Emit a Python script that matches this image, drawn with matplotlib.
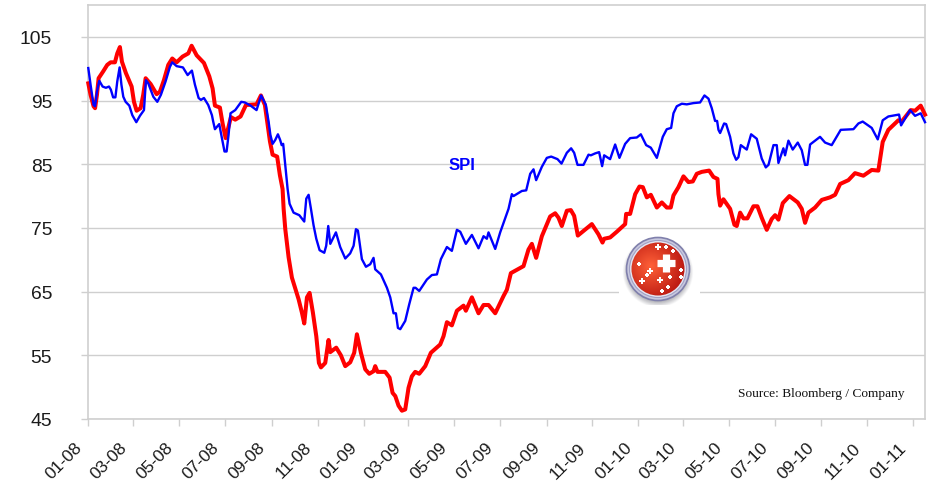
import numpy as np
import matplotlib
matplotlib.use('Agg')
import matplotlib.pyplot as plt
from matplotlib.patches import Circle, Rectangle

# days since 1 Jan 2008 / index level
spi_days = [0, 3, 7, 9, 11.5, 14.6, 19, 23.4, 27.5, 30, 33, 36, 38.5, 41.6, 44, 46.5, 49.6, 54.5, 58.5, 63.8,
            68.6, 74, 76.6, 79.7, 86.4, 91.7, 96.5, 102.7, 108.5, 111.6, 117.4, 125.8, 132, 137.7, 141.7, 146.6,
            149.7, 153.7, 159.4, 164.3, 166, 168.3, 174, 177.6, 181, 183.8, 186.4, 189, 195.3, 203.3, 208, 215.7,
            223.6, 229.8, 236, 239.6, 242, 245, 248.4, 252, 255, 257, 259, 261.7, 264.9, 267.5, 272.8, 280.4,
            287, 289.7, 292.8, 295.9, 299.4, 303, 307.4, 313.6, 316.2, 318.9, 321.6, 329.1, 334.8, 341.5, 348,
            352.6, 355.7, 358.3, 363.6, 369, 374.7, 379.1, 381.3, 388.9, 396.9, 401.3, 405.7, 408.8, 411.5, 414.6,
            421.2, 426.5, 432.3, 434.9, 439.8, 450, 456.6, 463.3, 468.6, 476.6, 483.2, 489.9, 494.3, 501.8, 509.8,
            518.6, 525.3, 529.7, 531.9, 540.8, 547.4, 558.5, 562.9, 565.1, 576.2, 582, 587.3, 591.7, 595.2, 602.8,
            609.4, 615.2, 623.6, 628.9, 636, 641.7, 645.7, 650.2, 658.1, 664.8, 667.9, 673.6, 678.9, 682.9, 685.6,
            693.5, 700.2, 705.9, 713.5, 720.1, 729, 734.3, 741.4, 747.6, 755.6, 763.5, 768.8, 774.6, 777.7, 782.1,
            788.8, 795.4, 804.3, 813.1, 818.9, 824.2, 828.6, 833, 835.7, 837.5, 839.7, 845, 847.7, 853, 857.4, 861,
            864, 867.2, 875.1, 880.9, 888.4, 895, 900.4, 904, 910.6, 915, 917.2, 923.8, 926, 930.5, 936.2, 942.9,
            948.2, 952.6, 955.7, 959.3, 972.5, 979.2, 988, 1000, 1016.9, 1023.5, 1029.2, 1041.2, 1049.2, 1055.8,
            1063.3, 1077.5, 1080.2, 1092.1, 1098.8, 1106.3, 1112]
spi_vals = [100.1, 97.5, 94.3, 94.1, 96.4, 98.1, 97.2, 97, 97.2, 96.7, 95.5, 95.5, 98, 100.2, 97.5, 95.6, 94.8, 94.2,
            92.7, 91.6, 92.6, 93.5, 98.2, 97.7, 95.6, 94.8, 95.9, 98, 100.3, 101, 100.4, 100.2, 99, 99.7, 97.5, 95.4,
            95.1, 95.4, 94.3, 92.7, 91.7, 90.5, 91.3, 89.1, 87, 87, 89.6, 93, 93.5, 94.8, 94.7, 94.2, 93.5, 95.8,
            94.3, 91.7, 89.6, 88.2, 88.8, 89.7, 88.8, 88, 88.2, 84.9, 81.1, 78.8, 77.4, 77, 76, 79.6, 80.2, 78, 75.4,
            73.3, 71.5, 71.1, 72.2, 75.3, 72.5, 74.3, 72, 70.2, 71, 72.2, 74.8, 74.6, 70.1, 68.9, 69.3, 70.3, 68.5,
            67.7, 65.6, 64.1, 61.6, 61.6, 59.3, 59.1, 60.4, 63, 65.6, 65.6, 65.1, 66.9, 67.6, 67.7, 70.1, 72, 71.4,
            74.7, 74.4, 72.5, 73.9, 71.8, 73.7, 73.3, 74.3, 71.7, 74.3, 78, 80.3, 80, 80.8, 80.9, 83.5, 84.2, 82.5,
            84.6, 86, 86.2, 85.8, 85.1, 86.8, 87.5, 86.8, 84.9, 84.9, 86.5, 86.4, 86.7, 86.9, 84.7, 86.4, 85.8, 88.1,
            86, 88.2, 89.1, 89.2, 89.7, 88, 87.6, 86, 89.3, 90.5, 90.7, 93, 94.1, 94.5, 94.4, 94.6, 94.7, 95.8, 95.3,
            93.8, 91.8, 91.8, 90.4, 89.9, 91.4, 91.3, 89.3, 86.7, 85.7, 86.1, 88, 87.3, 89.7, 89, 85.9, 84.5, 84.9,
            88, 88, 85.2, 87.5, 86.4, 88.7, 87.3, 88.4, 87.2, 84.9, 84.9, 88.1, 89.3, 88.4, 88, 90.4, 90.5, 91.4,
            91.7, 90.7, 88.9, 91.9, 92.5, 92.8, 91.1, 93.5, 92.6, 93, 91.6]

company_days = [0, 3, 7, 9, 11.5, 13.7, 19.9, 25.2, 29.7, 35.4, 38.5, 42, 44.7, 50, 57.6, 60.7, 64.2, 69.5, 73, 76.2,
                82.8, 90.8, 95.2, 100.5, 106.3, 111.6, 117.4, 125.3, 132.9, 137.3, 144, 153.7, 160.8, 165.2, 168.3,
                174.9, 178.5, 182.5, 186, 189.5, 195.3, 202.4, 209.5, 223.6, 229.4, 234.7, 238.3, 241.4, 244.9, 251,
                254.6, 258.2, 259.6, 261.8, 266.2, 270.6, 279.5, 283.9, 287, 290.6, 294.1, 298.5, 303, 306.5, 309.2,
                314.9, 319.3, 321.6, 329.5, 335.7, 341.5, 348.1, 353.4, 357, 362.3, 368.1, 373.4, 379.1, 381.3, 384.4,
                394.6, 400.4, 404.4, 408, 412.3, 416.8, 421.2, 425.6, 430, 434.5, 439.8, 447.8, 455.3, 467.7, 472.1,
                476.6, 483.2, 489.9, 498.7, 501.8, 509.8, 518.6, 525.3, 531.9, 540.8, 551.8, 556.3, 561.6, 578.4, 585,
                589.5, 595.2, 602.8, 613.8, 620.5, 624.9, 629.3, 636, 641.3, 645.7, 650.6, 669.2, 678, 683.4, 685.6,
                693.5, 702.4, 713.5, 714.8, 720.1, 726.8, 732.5, 737, 742.3, 747.6, 755.6, 762.2, 768.8, 774.1, 777.7,
                784.3, 791, 797.6, 803.4, 808.7, 815.3, 825.1, 830.8, 836.2, 837.5, 839.7, 844.1, 853, 858.7, 861.8,
                866.3, 870.7, 876, 884, 889.3, 895, 901.7, 908.3, 912.8, 917.2, 923, 931.8, 942.9, 948.2, 952.6, 957,
                965.9, 974.8, 985.8, 992.5, 999.2, 1010.2, 1019, 1030.1, 1041.2, 1050, 1055.8, 1063.3, 1076.6, 1081,
                1093, 1098.8, 1106.3, 1112]
company_vals = [97.7, 95.9, 94.1, 93.8, 95.9, 98.5, 99.6, 100.6, 101, 101, 102.4, 103.4, 101.1, 99.3, 97.2, 94.8, 93.4,
                93.8, 95.9, 98.5, 97.6, 96, 96.4, 98.2, 100.6, 101.6, 101, 101.9, 102.4, 103.6, 102.1, 100.9, 98.8, 96.9,
                94.2, 93.9, 91.4, 89.1, 90.7, 92.4, 92, 92.5, 94.3, 94.4, 95.8, 94.3, 91.2, 88.6, 86.5, 86.2, 83.3, 81.1,
                78, 74.8, 70.4, 67.2, 63.8, 61.7, 60, 64.1, 64.8, 61.7, 58, 53.8, 53.1, 53.8, 57.4, 55.5, 56.2, 55, 53.3,
                53.9, 55.4, 58.3, 55.4, 52.8, 52.1, 52.5, 53.3, 52.4, 52.4, 51.5, 49.1, 48.6, 47.1, 46.3, 46.5, 49.9,
                51.7, 52.4, 52.1, 53.3, 55.4, 56.7, 58, 60.2, 59.7, 62, 62.8, 62, 64.1, 61.6, 62.9, 62.9, 61.6, 64.3, 65.3,
                67.9, 69, 71.6, 72.5, 70.3, 73.7, 76.8, 77.3, 76.6, 75.3, 77.7, 77.8, 76.9, 73.8, 75.6, 74, 72.7, 73.3,
                73.5, 74.4, 75.6, 77.2, 77.2, 80.3, 81.5, 81.4, 79.8, 80.2, 78.2, 79, 78.2, 78.2, 80.1, 81.4, 83.1, 82.2,
                82.3, 83.5, 83.8, 84, 83, 82.7, 80.3, 78.5, 79.5, 78, 75.5, 75.3, 77.4, 76.5, 76.5, 78.4, 78.4, 76.6, 74.7,
                76.4, 77, 76.3, 78.9, 80, 79, 78, 75.8, 77.4, 78.2, 79.4, 79.8, 80.2, 81.9, 82.5, 83.6, 83.2, 84.1, 84,
                88.5, 90.4, 91.9, 91.7, 93.5, 93.4, 94.2, 92.8]

tick_days = [0, 60, 121, 182, 244, 305, 366, 425, 486, 547, 609, 670, 731, 790, 851, 912, 974, 1035, 1096]
tick_labels = ['01-08', '03-08', '05-08', '07-08', '09-08', '11-08', '01-09', '03-09', '05-09', '07-09',
               '09-09', '11-09', '01-10', '03-10', '05-10', '07-10', '09-10', '11-10', '01-11']
y_ticks = [45, 55, 65, 75, 85, 95, 105]

W, H = 930, 485
grey = '#cfcfcf'

fig = plt.figure(figsize=(W / 100, H / 100), dpi=100)
ax = fig.add_axes([88.3 / W, 1 - 420 / H, (925 - 88.3) / W, (420 - 6) / H])

ax.plot(company_days, company_vals, color='#ff0000', lw=2.9, solid_joinstyle='round', zorder=3, clip_on=False)
ax.plot(spi_days, spi_vals, color='#0000ff', lw=1.7, solid_joinstyle='round', zorder=4, clip_on=False)

ax.set_xlim(0, 1112)
ax.set_ylim(45, 110)
ax.set_yticks(y_ticks)
ax.set_xticks(tick_days)
ax.set_xticklabels([])
# labels sit left of their ticks in the original, so they are placed by hand
for day, label in zip(tick_days, tick_labels):
    ax.annotate(label, xy=(day, 0), xycoords=('data', 'axes fraction'), xytext=(-6.5, -18.5),
                textcoords='offset points', rotation=45, ha='right', va='center', rotation_mode='anchor',
                family='Liberation Sans', fontsize=12.5, color='#1a1a1a', annotation_clip=False)
for lab in ax.get_yticklabels():
    lab.set_family('Liberation Sans')
    lab.set_fontsize(13.9)
    lab.set_color('#1a1a1a')
ax.tick_params(axis='y', length=5, width=1, color=grey, pad=21)
ax.tick_params(axis='x', length=5, width=1, color=grey)
ax.grid(axis='y', color=grey, lw=1)
ax.set_axisbelow(True)
for s in ax.spines.values():
    s.set_color(grey)
    s.set_linewidth(1.2)

ax.text(462 / W, 1 - 165 / H, 'SPI', transform=fig.transFigure, color='#0000ff', fontsize=12,
        fontweight='bold', family='Liberation Sans', ha='center', va='center')
ax.text(905 / W, 1 - 394 / H, 'Source: Bloomberg / Company', transform=fig.transFigure, color='#111111',
        fontsize=9.6, family='Liberation Serif', ha='right', va='center')

# white box of the pasted badge cuts the 65 gridline
ax.add_patch(Rectangle((619 / W, 1 - 305 / H), 81 / W, 50 / H, transform=fig.transFigure,
                       fc='white', ec='none', zorder=1))

# swiss badge, drawn in its own pixel-sized axes
bx, by, br = 658, 270, 36
badge = fig.add_axes([(bx - br) / W, 1 - (by + br) / H, 2 * br / W, 2 * br / H], zorder=5)
badge.set_xlim(-br, br)
badge.set_ylim(br, -br)
badge.axis('off')

yy, xx = np.mgrid[-br:br:300j, -br:br:300j]
shadow = np.clip((35.5 - np.hypot(xx, yy - 3)) / 6, 0, 1) * 0.45
rgba = np.dstack([np.full_like(xx, 0.35), np.full_like(xx, 0.35), np.full_like(xx, 0.4), shadow])
badge.imshow(rgba, extent=(-br, br, br, -br), zorder=1)

badge.add_patch(Circle((0, 0), 31.5, fc='#c9c9df', ec='#8080ac', lw=1.2, zorder=2))
badge.add_patch(Circle((0, 0), 28.5, fc='#e4e4f0', ec='#a0a0c4', lw=0.8, zorder=2))

d = np.hypot(xx + 7, yy + 3) / 36
t = np.clip(d, 0, 1)[..., None]
inner = np.array([1.0, 0.38, 0.22]) * (1 - t) + np.array([0.72, 0.08, 0.06]) * t
face = badge.imshow(inner, extent=(-br, br, br, -br), zorder=3)
face.set_clip_path(Circle((0, 0), 26.5, transform=badge.transData))

# big cross and small sparkles around it
badge.plot([-1, 17], [-6, -6], color='white', lw=5.2, solid_capstyle='butt', zorder=4)
badge.plot([8, 8], [-15, 3], color='white', lw=5.2, solid_capstyle='butt', zorder=4)
spark_x = [0, 8, -8, 2, -16, -19, -24, -11, -7, -15, 15, 23, 23, -2, 4, 10, 12, 13, 4, -5, -9, 18, -4, 4]
spark_y = [-22, -22, 2, 11, 12, -5, -2, 6, 12, -13, -18, 1, 8, -1, 5, 18, 8, 13, 22, 14, 20, 10, -15, 14]
spark_s = [20, 6, 18, 24, 20, 5, 4, 6, 4, 3, 6, 10, 7, 4, 4, 5, 5, 4, 5, 3, 2, 2, 2, 2]
badge.scatter(spark_x, spark_y, s=spark_s, marker='P', color='white', linewidths=0, zorder=4)

fig.savefig('out.png', dpi=100)
